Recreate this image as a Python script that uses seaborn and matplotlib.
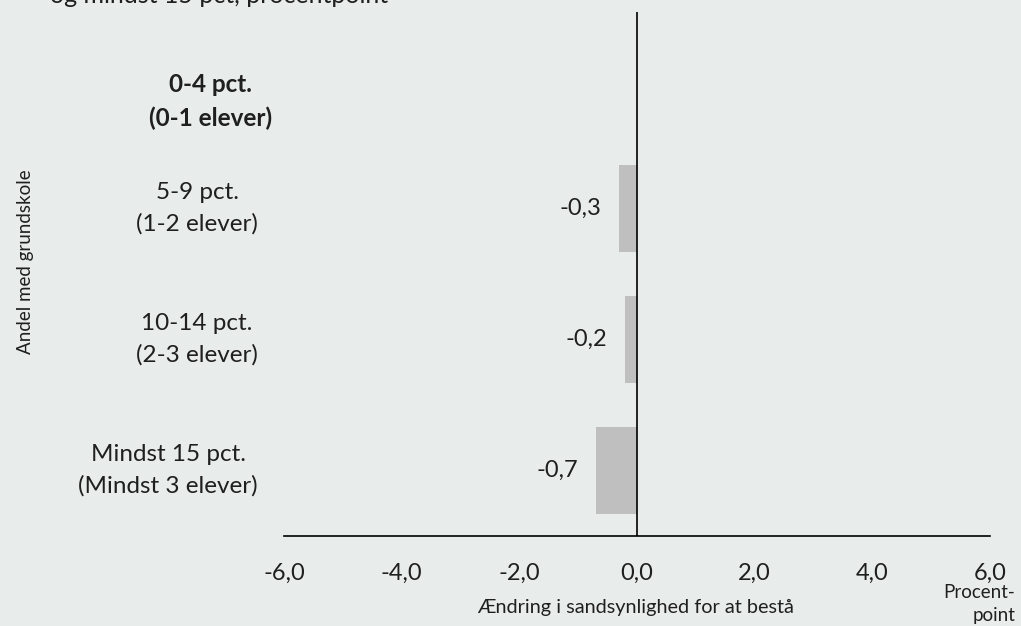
import matplotlib
matplotlib.use("Agg")
import matplotlib.pyplot as plt
import seaborn as sns
import numpy as np
import pandas as pd

categories = ["0-4 pct.\n(0-1 elever)", "5-9 pct.\n(1-2 elever)", "10-14 pct.\n(2-3 elever)", "Mindst 15 pct.\n(Mindst 3 elever)"]
values = [np.nan, -0.3, -0.2, -0.7]
xticks = [-6, -4, -2, 0, 2, 4, 6]

bg = "#E8EDEB"
txt = "#1f1f1f"
sns.set_theme(style="white")
plt.rcParams["font.family"] = ["Lato", "DejaVu Sans"]

W, H = 1021, 626
fig = plt.figure(figsize=(W / 100, H / 100), dpi=100, facecolor=bg)
ax = fig.add_axes([284 / W, 1 - 536 / H, (990 - 284) / W, (536 - 12) / H])
ax.set_facecolor(bg)

df = pd.DataFrame({"cat": categories, "val": values})
sns.barplot(data=df, x="val", y="cat", order=categories, color="#BFBFBF",
            width=0.66, saturation=1, ax=ax, orient="h", linewidth=0, edgecolor="none")

ax.set_xlim(-6, 6)
ax.set_ylim(len(categories) - 0.5, -0.5)
ax.set_xticks(xticks)
ax.set_xticklabels([f"{t:.1f}".replace(".", ",") for t in xticks], fontsize=17, color=txt)
ax.tick_params(axis="x", length=0, pad=19)
ax.set_yticks([])
ax.set_xlabel("")
ax.set_ylabel("")
for s in ["top", "right", "left"]:
    ax.spines[s].set_visible(False)
ax.spines["bottom"].set_color("black")
ax.spines["bottom"].set_linewidth(1.2)
ax.axvline(0, color="black", lw=1.2)

# value labels
for i, v in enumerate(values):
    if np.isnan(v):
        continue
    ax.annotate(f"{v:.1f}".replace(".", ","), xy=(v, i), xytext=(-13, 0),
                textcoords="offset points", ha="right", va="center", fontsize=17, color=txt)

# category labels (right-aligned blocks, centred lines)
label_right = [272, 258, 258, 258]
label_dy = [-24, 0, 0, 0]
for i, c in enumerate(categories):
    disp = ax.transData.transform((0, i))
    y_fig = (disp[1] + label_dy[i]) / fig.bbox.height
    fig.text(label_right[i] / W, y_fig, c, ha="right", va="center", multialignment="center",
             fontsize=17.5, color=txt, fontweight="bold" if i == 0 else "normal",
             linespacing=1.55)

fig.text(25 / W, 1 - 262 / H, "Andel med grundskole", rotation=90, ha="center", va="center",
         fontsize=13.5, color=txt)
fig.text(636 / W, 1 - 608 / H, "Ændring i sandsynlighed for at bestå", ha="center", va="center",
         fontsize=14.3, color=txt)
fig.text(1015 / W, 1 - 604 / H, "Procent-\npoint", ha="right", va="center", multialignment="right",
         fontsize=13.5, color=txt, linespacing=1.45)
fig.text(50 / W, 1 - 3 / H, "og mindst 15 pct, procentpoint", ha="left", va="baseline",
         fontsize=18, color=txt)

fig.savefig("out.png", dpi=100, facecolor=bg)
